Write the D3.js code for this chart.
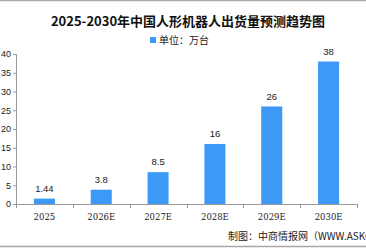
<!DOCTYPE html>
<html>
<head>
<meta charset="utf-8">
<script src="https://cdn.jsdelivr.net/npm/d3@7"></script>
<style>
  body { margin: 0; background: #fff; }
  svg { display: block; font-family: "Liberation Sans", "Noto Sans CJK SC", sans-serif; }
</style>
</head>
<body>
<svg id="chart" width="366" height="248"></svg>
<script>
// chart data
const years = ['2025', '2026E', '2027E', '2028E', '2029E', '2030E'];
const shipments = [1.44, 3.8, 8.5, 16, 26, 38];
const valueLabels = ['1.44', '3.8', '8.5', '16', '26', '38'];
const yTicks = [0, 5, 10, 15, 20, 25, 30, 35, 40];

const width = 366, height = 248;
const margin = { top: 54, right: 9, bottom: 44, left: 16 };
const innerWidth = width - margin.left - margin.right;
const innerHeight = height - margin.top - margin.bottom;

const svg = d3.select('#chart');

// frame lines top and bottom
svg.append('line').attr('x1', 0).attr('x2', width).attr('y1', 0.5).attr('y2', 0.5)
  .attr('stroke', '#a8a8a8').attr('stroke-width', 1.5);
svg.append('line').attr('x1', 0).attr('x2', width).attr('y1', 246.5).attr('y2', 246.5)
  .attr('stroke', '#a8a8a8').attr('stroke-width', 1.5);

// title
svg.append('text')
  .attr('x', 188).attr('y', 26)
  .attr('text-anchor', 'middle')
  .attr('font-family', '"Noto Sans CJK SC", sans-serif')
  .attr('font-weight', 'bold')
  .attr('font-size', 13)
  .attr('fill', '#111')
  .text('2025-2030年中国人形机器人出货量预测趋势图');

// legend
svg.append('rect').attr('x', 150).attr('y', 37).attr('width', 6).attr('height', 6).attr('fill', '#3d99f5');
svg.append('text')
  .attr('x', 159).attr('y', 44)
  .attr('font-family', '"Noto Sans CJK SC", sans-serif')
  .attr('font-size', 10)
  .attr('fill', '#222')
  .text('单位：万台');

const g = svg.append('g').attr('transform', `translate(${margin.left},${margin.top})`);

const x = d3.scaleBand().domain(years).range([0, innerWidth]);
const y = d3.scaleLinear().domain([0, 40]).range([innerHeight, 0]);

// y axis
const yAxis = g.append('g')
  .call(d3.axisLeft(y).tickValues(yTicks).tickSize(3).tickPadding(2));
yAxis.selectAll('text').attr('font-size', 9).attr('fill', '#222');
yAxis.selectAll('line, path').attr('stroke', '#999');
yAxis.select('.domain').attr('d', `M-3,0.5H0.5V${innerHeight}`);

// x axis with ticks at band edges
const xAxis = g.append('g').attr('transform', `translate(0,${innerHeight})`);
xAxis.append('line').attr('x1', 0).attr('x2', innerWidth).attr('y1', 0.5).attr('y2', 0.5).attr('stroke', '#999');
const edges = years.map(d => x(d)).concat([innerWidth]);
xAxis.selectAll('.edge').data(edges).join('line')
  .attr('class', 'edge')
  .attr('x1', d => Math.round(d) + 0.5).attr('x2', d => Math.round(d) + 0.5)
  .attr('y1', 0).attr('y2', 4)
  .attr('stroke', '#999');
xAxis.selectAll('.lbl').data(years).join('text')
  .attr('class', 'lbl')
  .attr('x', d => x(d) + x.bandwidth() / 2)
  .attr('y', 16)
  .attr('text-anchor', 'middle')
  .attr('font-family', '"DejaVu Serif", serif')
  .attr('font-size', 8.5)
  .attr('fill', '#222')
  .text(d => d);

// bars
const barW = x.bandwidth() * 0.37;
g.selectAll('.bar').data(years).join('rect')
  .attr('class', 'bar')
  .attr('x', d => x(d) + (x.bandwidth() - barW) / 2)
  .attr('y', (d, i) => y(shipments[i]))
  .attr('width', barW)
  .attr('height', (d, i) => innerHeight - y(shipments[i]))
  .attr('fill', '#3d99f5');

// value labels
g.selectAll('.val').data(years).join('text')
  .attr('class', 'val')
  .attr('x', d => x(d) + x.bandwidth() / 2)
  .attr('y', (d, i) => y(shipments[i]) - 7)
  .attr('text-anchor', 'middle')
  .attr('font-size', 9.5)
  .attr('fill', '#222')
  .text((d, i) => valueLabels[i]);

// source
svg.append('text')
  .attr('x', 228).attr('y', 240)
  .attr('font-family', '"Noto Sans CJK SC", sans-serif')
  .attr('font-size', 10)
  .attr('fill', '#222')
  .text('制图：中商情报网（WWW.ASKCI.COM）');
</script>
</body>
</html>
